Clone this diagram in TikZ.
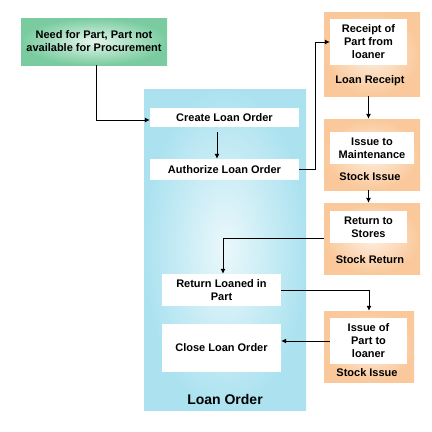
\documentclass[tikz,border=0pt]{standalone}
\usepackage{fontspec}
\setsansfont{Liberation Sans}
\usetikzlibrary{positioning, arrows.meta, calc}
\definecolor{cG}{RGB}{122,204,160}
\definecolor{cB}{RGB}{172,226,240}
\definecolor{cO}{RGB}{250,200,154}

\tikzset{
  txt/.style={font=\sffamily\bfseries\fontsize{11}{13}\selectfont, align=center, inner sep=0pt},
  panel/.style={draw=none, inner sep=0pt},
  task/.style={panel, txt, fill=white},
  arr/.style={-{Latex[length=5pt,width=5pt]}, line width=0.8pt},
}

\begin{document}
\begin{tikzpicture}[x=1pt, y=-1pt]
    \useasboundingbox (0,0) rectangle (432,432);

    % --- Trigger ---
    \node[panel, txt, minimum width=146pt, minimum height=47pt, inner color=cG!20, outer color=cG] (need) at (94,41.5) {Need for Part, Part not\\available for Procurement};

    % --- Loan Order container ---
    \node[panel, minimum width=162pt, minimum height=321pt, inner color=cB!25, outer color=cB] (order) at (225,249.5) {};
    \node[txt, font=\sffamily\bfseries\fontsize{14}{16}\selectfont] (orderLbl) at (225,399) {Loan Order};

    \node[task, minimum width=149pt, minimum height=19pt] (create) at (224.5,117.5) {Create Loan Order};
    \node[task, minimum width=149pt, minimum height=21pt] (authorize) at (224.5,169.5) {Authorize Loan Order};
    \node[task, minimum width=119pt, minimum height=32pt] (returnP) at (221.5,290) {Return Loaned in\\Part};
    \node[task, minimum width=119pt, minimum height=48pt] (close) at (221.5,348) {Close Loan Order};

    % --- Stock movements (orange panels) ---
    % \name/\x/\y/\w/\h/\ix/\iy/\iw/\ih/\ly/\inner/\label
    \foreach \name/\x/\y/\w/\h/\ix/\iy/\iw/\ih/\ly/\intext/\lbl in {
        receipt/372/54/96/84/368.5/42/77/46/81/{Receipt of\\Part from\\loaner}/{Loan Receipt},
        issueM/372/154.5/96/71/372/148/84/32/177/{Issue to\\Maintenance}/{Stock Issue},
        stores/372/238.5/96/71/368.5/227/77/32/260/{Return to\\Stores}/{Stock Return},
        issueP/369/346.5/90/71/368.5/341/77/46/373/{Issue of\\Part to\\loaner}/{Stock Issue}%
    } {
        \node[panel, minimum width=\w pt, minimum height=\h pt, inner color=cO!30, outer color=cO] (\name) at (\x,\y) {};
        \node[task, minimum width=\iw pt, minimum height=\ih pt] (\name In) at (\ix,\iy) {\intext};
        \node[txt] (\name Lbl) at (\x-2,\ly) {\lbl};
    }

    % --- Connectors ---
    \draw[arr] ([xshift=2pt]need.south) |- ([yshift=-2.5pt]create.west);
    \draw[arr] ([xshift=-7.5pt,yshift=-5pt]create.south) -- ([xshift=-7.5pt]authorize.north);
    \draw[arr] (authorize.east) -- ++(16,0) |- (receiptIn.west);
    \draw[arr] (receipt.south -| receiptIn) -- (issueM.north -| receiptIn);
    \draw[arr] (issueM.south -| receiptIn) -- (stores.north -| receiptIn);
    \draw[arr] (stores.west) -| ([xshift=1.5pt]returnP.north);
    \draw[arr] (returnP.east) -| (issueP.north);
    \draw[arr] (issuePIn.west) -- (issuePIn.west -| close.east);

\end{tikzpicture}
\end{document}
